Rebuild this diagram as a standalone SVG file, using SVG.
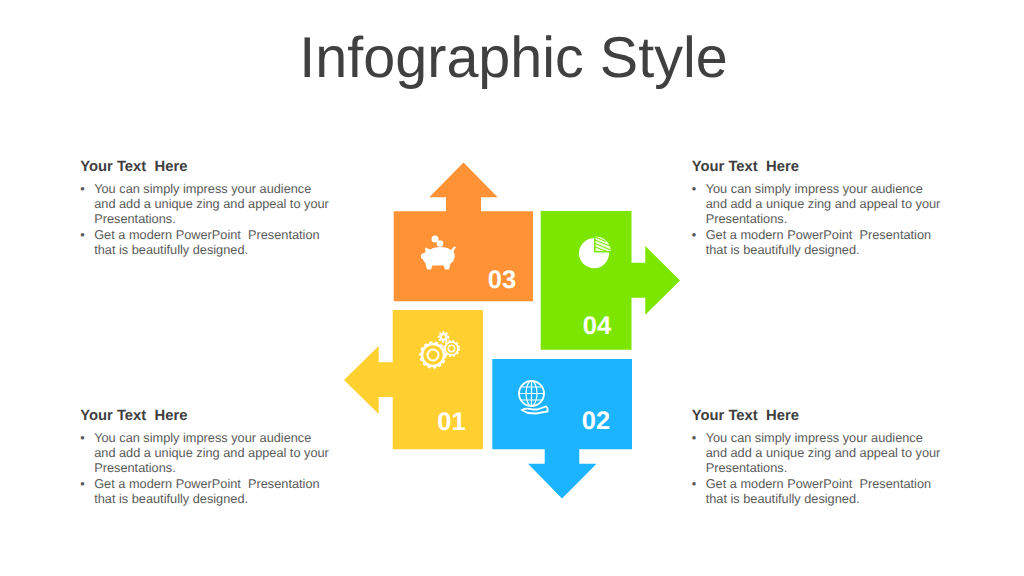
<svg xmlns="http://www.w3.org/2000/svg" xmlns:xlink="http://www.w3.org/1999/xlink" width="1024" height="576" viewBox="0 0 1024 576">
<style>
text{font-family:"Liberation Sans",Arial,sans-serif;white-space:pre;text-rendering:geometricPrecision}
.title{font-size:57.500px;fill:#404040}
.h{font-size:14.800px;font-weight:bold;fill:#404040}
.b{font-size:12.750px;fill:#595959}
.n{font-size:25.500px;font-weight:bold;fill:#fff;text-anchor:middle}
.w{fill:#fff}
.ol{fill:none;stroke:#fff}
</style>
<defs>
<g id="copy">
<text class="h" x="0" y="5">Your Text  Here</text>
<text class="b" x="0" y="26.800">•</text>
<text class="b" x="14" y="26.800">You can simply impress your audience</text>
<text class="b" x="14" y="42.100">and add a unique zing and appeal to your</text>
<text class="b" x="14" y="57.400">Presentations.</text>
<text class="b" x="0" y="72.700">•</text>
<text class="b" x="14" y="72.700">Get a modern PowerPoint  Presentation</text>
<text class="b" x="14" y="88">that is beautifully designed.</text>
</g>
</defs>
<text class="title" x="513.500" y="77" text-anchor="middle">Infographic Style</text>
<g id="text-tl"><use xlink:href="#copy" x="80.200" y="166"/></g>
<g id="text-tr"><use xlink:href="#copy" x="691.700" y="166"/></g>
<g id="text-bl"><use xlink:href="#copy" x="80.200" y="415"/></g>
<g id="text-br"><use xlink:href="#copy" x="691.700" y="415"/></g>
<g id="node-03">
<path fill="#ff9234" d="M393.700 211.300H446V197.300H429.300L463.500 162.500L497.700 197.300H481V211.300H533V301.300H393.700Z"/>
<circle class="w" cx="435" cy="239" r="3.500"/>
<circle class="w" cx="440" cy="243.600" r="3.300"/>
<path class="w" d="M421 254.500L425.500 252L425 247.500L430.500 249.500C436 246 447 246.500 451 250L454 246.500L456 247L453.500 251C456 256 454.500 261 450.500 263.500L449 269.500H445L443.500 265.500H432.500L431 269.500H427L425.500 263.500L422.500 259L421 258Z"/>
<text class="n" x="502" y="288">03</text>
</g>
<g id="node-04">
<path fill="#7de600" d="M540.700 211H631.500V262.700H645.300V246L680 280.500L645.300 314.700V297.700H631.500V349.700H540.700Z"/>
<path class="w" d="M594 238.200V252.500H609A15 15 0 1 1 594 238.200Z"/>
<path class="w" d="M595.500 236.500A15.500 15.500 0 0 1 611 251H595.500Z" opacity=".85"/>
<path d="M595 240L611 246.500M595 243.500L611 250M595 237L606 241.500M595 247L606 251" stroke="#7de600" stroke-width="1" fill="none"/>
<text class="n" x="597" y="334">04</text>
</g>
<g id="node-01">
<path fill="#ffd030" d="M392.700 310H483V449.300H392.700V397H378.700V414L344 380L378.700 346V362.300H392.700Z"/>
<circle class="ol" cx="433" cy="355" r="5.500" stroke-width="2"/>
<circle class="ol" cx="433" cy="355" r="11" stroke-width="2.500"/>
<circle class="ol" cx="433" cy="355" r="12.300" stroke-width="2.800" stroke-dasharray="3 2.400"/>
<circle class="ol" cx="451.500" cy="348.500" r="3.200" stroke-width="1.500"/>
<circle class="ol" cx="451.500" cy="348.500" r="6.500" stroke-width="1.700"/>
<circle class="ol" cx="451.500" cy="348.500" r="7.500" stroke-width="2" stroke-dasharray="2.200 1.800"/>
<circle class="ol" cx="443.500" cy="337" r="2.900" stroke-width="2.400"/>
<circle class="ol" cx="443.500" cy="337" r="4.800" stroke-width="2" stroke-dasharray="2 1.500"/>
<text class="n" x="451.500" y="430">01</text>
</g>
<g id="node-02">
<path fill="#1cb4ff" d="M492.300 359H632V449.300H579.300V463.700H596.500L562 498.500L528 463.700H544.700V449.300H492.300Z"/>
<g class="ol" stroke-width="1.200">
<circle cx="531.500" cy="393.500" r="12.500" stroke-width="1.800"/>
<ellipse cx="531.500" cy="393.500" rx="5.500" ry="12.500"/>
<path d="M531.500 381V406M519 393.500H544M521 387H542M521 400H542"/>
</g>
<path class="ol" stroke-width="1.800" d="M522 410C526 407.500 530 409 533 409.500H537L546 406.500L547.500 408V411.500L536 413.500L528 413Z"/>
<text class="n" x="596" y="429">02</text>
</g>
</svg>
